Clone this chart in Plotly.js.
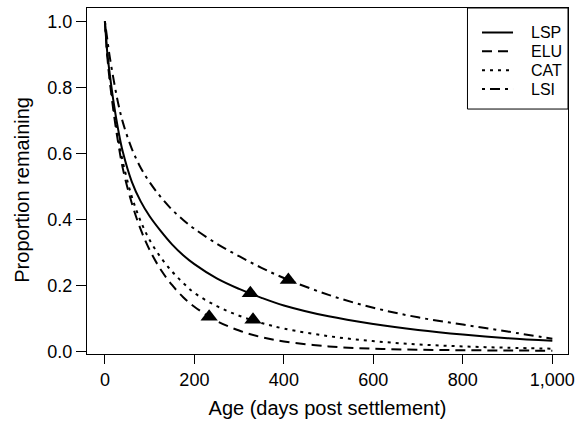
<!DOCTYPE html>
<html>
<head>
<meta charset="utf-8">
<script src="https://cdn.plot.ly/plotly-3.0.1.min.js"></script>
<style>html,body{margin:0;padding:0;background:#fff;}#chart{width:575px;height:422px;}</style>
</head>
<body>
<div id="chart"></div>
<script>
// Age grid (days post settlement)
var age = [0, 5, 10, 20, 30, 40, 60, 80, 100, 125, 150, 175, 200, 250, 300, 350, 400, 500, 600, 700, 800, 900, 1000];
// Proportion remaining
var lsp = [1.00, 0.91, 0.85, 0.75, 0.67, 0.605, 0.515, 0.455, 0.41, 0.365, 0.325, 0.292, 0.265, 0.222, 0.19, 0.163, 0.14, 0.107, 0.084, 0.066, 0.052, 0.041, 0.033];
var elu = [1.00, 0.90, 0.83, 0.72, 0.63, 0.555, 0.45, 0.37, 0.308, 0.248, 0.202, 0.165, 0.136, 0.093, 0.064, 0.044, 0.031, 0.016, 0.009, 0.006, 0.0045, 0.0035, 0.003];
var cat = [1.00, 0.91, 0.84, 0.735, 0.645, 0.575, 0.47, 0.395, 0.338, 0.285, 0.243, 0.208, 0.178, 0.138, 0.109, 0.087, 0.07, 0.047, 0.032, 0.022, 0.016, 0.012, 0.009];
var lsi = [1.00, 0.95, 0.90, 0.82, 0.75, 0.695, 0.615, 0.557, 0.513, 0.468, 0.43, 0.399, 0.372, 0.327, 0.289, 0.254, 0.223, 0.172, 0.133, 0.104, 0.082, 0.061, 0.039];
// Triangle markers on each curve
var markAge = [325, 233, 331, 410];
var markVal = [0.177, 0.106, 0.097, 0.217];
var names = ["LSP", "ELU", "CAT", "LSI"];
var dashes = ["solid", "10px,6px", "3px,5px", "3px,5px,10px,5px"];
var series = [lsp, elu, cat, lsi];
var xTicks = [0, 200, 400, 600, 800, 1000];
var yTicks = [0, 0.2, 0.4, 0.6, 0.8, 1.0];

var fam = "Liberation Sans, Arial, sans-serif";
var traces = [];
for (var i = 0; i < series.length; i++) {
  traces.push({
    x: age, y: series[i], name: names[i], type: "scatter", mode: "lines", showlegend: false,
    line: {color: "#000", width: 2, dash: dashes[i], shape: "spline", smoothing: 1}
  });
}
traces.push({
  x: markAge, y: markVal, type: "scatter", mode: "markers", showlegend: false,
  marker: {symbol: "triangle-up", size: 15, color: "#000"}, hoverinfo: "skip"
});

// Legend drawn as a boxed key (sample lines + labels), paper coordinates
var shapes = [{
  type: "rect", xref: "paper", yref: "paper", x0: 0.791, x1: 1, y0: 0.708, y1: 1,
  line: {color: "#000", width: 1}, fillcolor: "rgba(0,0,0,0)"
}];
var annotations = [];
var rowY = [0.9292, 0.8749, 0.8202, 0.7656];
for (var k = 0; k < names.length; k++) {
  shapes.push({type: "line", xref: "paper", yref: "paper", x0: 0.8212, x1: 0.8857, y0: rowY[k], y1: rowY[k],
    line: {color: "#000", width: 2, dash: dashes[k]}});
  annotations.push({xref: "paper", yref: "paper", x: 0.9195, y: rowY[k], xanchor: "left", yanchor: "middle",
    text: names[k], showarrow: false, font: {family: fam, size: 16, color: "#000"}});
}
annotations.push({xref: "paper", yref: "paper", x: -0.135, y: 0.475, xanchor: "center", yanchor: "middle",
  textangle: -90, text: "Proportion remaining", showarrow: false, font: {family: fam, size: 20, color: "#000"}});

var layout = {
  width: 575, height: 422,
  margin: {l: 87, r: 7, t: 8, b: 68},
  paper_bgcolor: "#fff", plot_bgcolor: "#fff",
  font: {family: fam, color: "#000", size: 18},
  showlegend: false,
  shapes: shapes,
  annotations: annotations,
  xaxis: {
    range: [-40, 1035], tickvals: xTicks, tickformat: ",", showgrid: false, zeroline: false,
    showline: true, linecolor: "#000", linewidth: 1, mirror: true,
    ticks: "outside", ticklen: 9, tickwidth: 1, tickcolor: "#000",
    tickfont: {family: fam, size: 18, color: "#000"},
    title: {text: "Age (days post settlement)", font: {family: fam, size: 20, color: "#000"}, standoff: 12}
  },
  yaxis: {
    range: [-0.007, 1.0406], tickvals: yTicks, tickformat: ".1f", showgrid: false, zeroline: false,
    showline: true, linecolor: "#000", linewidth: 1, mirror: true,
    ticks: "outside", ticklen: 10, tickwidth: 1, tickcolor: "#000",
    tickfont: {family: fam, size: 18, color: "#000"}
  }
};
Plotly.newPlot("chart", traces, layout, {displayModeBar: false, staticPlot: true});
</script>
</body>
</html>
